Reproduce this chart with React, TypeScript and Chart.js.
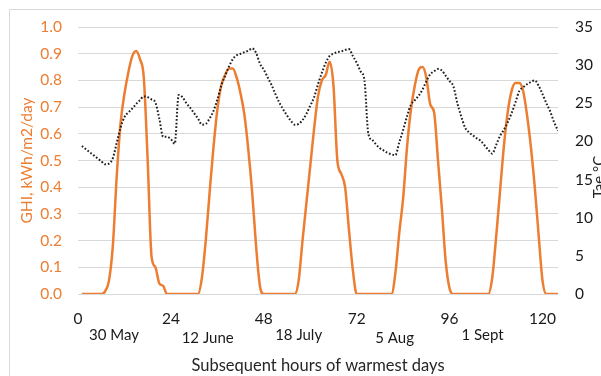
import { useEffect, useRef } from 'react';
import { Chart, registerables } from 'chart.js';

Chart.register(...registerables);

// GHI (kWh/m2/day), hourly, hours 1..124
const ghi = [
  0, 0, 0, 0, 0, 0, 0.01, 0.05, 0.18, 0.44, 0.64, 0.75, 0.83, 0.89, 0.91, 0.88, 0.81, 0.5, 0.14, 0.1, 0.04, 0.03, 0, 0,
  0, 0, 0, 0, 0, 0, 0, 0.06, 0.2, 0.38, 0.55, 0.69, 0.78, 0.82, 0.845, 0.845, 0.81, 0.75, 0.67, 0.54, 0.38, 0.18, 0.03, 0,
  0, 0, 0, 0, 0, 0, 0, 0, 0.05, 0.2, 0.34, 0.48, 0.62, 0.74, 0.8, 0.82, 0.87, 0.78, 0.5, 0.45, 0.4, 0.24, 0.09, 0,
  0, 0, 0, 0, 0, 0, 0, 0, 0, 0.08, 0.23, 0.36, 0.55, 0.69, 0.78, 0.84, 0.85, 0.81, 0.71, 0.68, 0.5, 0.32, 0.12, 0.02,
  0, 0, 0, 0, 0, 0, 0, 0, 0, 0, 0.06, 0.21, 0.38, 0.55, 0.68, 0.76, 0.79, 0.79, 0.76, 0.67, 0.55, 0.4, 0.22, 0.05,
  0, 0, 0, 0,
];

// Ambient temperature Tae (°C), hourly, hours 1..124
const tae = [
  19.4, 19.0, 18.6, 18.2, 17.8, 17.4, 17.0, 17.1, 17.8, 19.8, 21.8, 23.2, 23.8, 24.3, 24.9, 25.4, 25.9, 25.8, 25.5, 25.1, 23.0, 20.6, 20.6, 20.3,
  19.7, 26.1, 25.8, 25.0, 24.4, 23.7, 23.0, 22.2, 22.3, 23.0, 24.0, 25.5, 27.3, 28.6, 29.8, 30.8, 31.3, 31.5, 31.7, 31.9, 32.2, 31.6, 30.2, 29.4,
  28.4, 27.4, 26.2, 25.1, 24.2, 23.4, 22.7, 22.2, 22.3, 22.8, 23.6, 24.7, 25.8, 27.5, 29.0, 30.3, 31.2, 31.5, 31.7, 31.8, 32.0, 32.1, 31.2, 30.3,
  29.2, 28.0, 21.0, 20.2, 19.6, 19.1, 18.8, 18.5, 18.3, 18.2, 19.9, 21.5, 23.3, 24.8, 25.4, 26.0, 26.8, 27.9, 28.8, 29.2, 29.5, 29.3, 28.6, 27.9,
  27.2, 25.0, 23.3, 21.8, 21.2, 20.8, 20.4, 20.1, 19.5, 18.9, 18.4, 19.5, 20.7, 21.5, 22.5, 23.7, 25.1, 26.6, 27.1, 27.5, 27.8, 28.0, 27.3, 26.2,
  25.0, 23.9, 22.5, 21.4,
];

const hours = ghi.map((_, i) => i + 1);
const dateLabels = ['30 May', '12 June', '18 July', '5 Aug', '1 Sept'];
const dateLabelHours = [9.3, 33.5, 57, 81.8, 104.5];

const ORANGE = '#ED7D31';
const FONT = 'Lato';

const extras = {
  id: 'extras',
  afterDraw(chart: any) {
    const ctx = chart.ctx;
    const area = chart.chartArea;
    ctx.save();
    // chart border
    ctx.strokeStyle = '#d9d9d9';
    ctx.lineWidth = 1;
    ctx.beginPath();
    ctx.moveTo(9.5, 380);
    ctx.lineTo(9.5, 9.5);
    ctx.lineTo(610, 9.5);
    ctx.stroke();
    // date labels
    ctx.fillStyle = '#1a1a1a';
    ctx.font = `15px ${FONT}`;
    ctx.textAlign = 'center';
    ctx.textBaseline = 'middle';
    const xs = chart.scales.x;
    dateLabels.forEach((t, i) => {
      ctx.fillText(t, xs.getPixelForValue(dateLabelHours[i]), area.bottom + 41 + (i % 2) * 3);
    });
    // right axis title
    ctx.translate(599, 177);
    ctx.rotate(-Math.PI / 2);
    ctx.fillStyle = '#262626';
    ctx.fillText('Tae °C', 0, 0);
    ctx.restore();
  },
};

export default function App() {
  const ref = useRef<HTMLCanvasElement>(null);
  useEffect(() => {
    if (!ref.current) return;
    const chart = new Chart(ref.current, {
      type: 'line',
      data: {
        datasets: [
          {
            label: 'Tae',
            data: hours.map((h, i) => ({ x: h, y: tae[i] })),
            yAxisID: 'y1',
            borderColor: '#202020',
            borderWidth: 2,
            borderDash: [1.7, 1.9],
            pointRadius: 0,
            fill: false,
            cubicInterpolationMode: 'monotone',
          },
          {
            label: 'GHI',
            data: hours.map((h, i) => ({ x: h, y: ghi[i] })),
            yAxisID: 'y',
            borderColor: ORANGE,
            borderWidth: 2.5,
            pointRadius: 0,
            fill: false,
            cubicInterpolationMode: 'monotone',
          },
        ],
      },
      options: {
        animation: false,
        responsive: false,
        layout: { padding: { top: 27, left: 0, right: 0, bottom: 0 } },
        plugins: { legend: { display: false }, tooltip: { enabled: false } },
        scales: {
          x: {
            type: 'linear',
            position: 'bottom',
            min: 0,
            max: 124,
            grid: { display: false, drawTicks: false },
            border: { display: false },
            ticks: { stepSize: 24, includeBounds: false, padding: 16, color: '#1a1a1a', font: { family: FONT, size: 15.5 } },
            title: {
              display: true,
              text: 'Subsequent hours of warmest days',
              color: '#262626',
              font: { family: FONT, size: 16.5 },
              padding: { top: 0, bottom: 0 },
            },
            afterFit: (s: any) => { s.height = 82; },
          },
          y: {
            position: 'left',
            min: 0,
            max: 1,
            grid: { color: '#d9d9d9', drawTicks: false },
            border: { display: false },
            ticks: {
              stepSize: 0.1,
              padding: 16,
              color: ORANGE,
              font: { family: FONT, size: 15.5 },
              callback: (v: any) => Number(v).toFixed(1),
            },
            title: {
              display: true,
              text: 'GHI, kWh/m2/day',
              color: ORANGE,
              font: { family: FONT, size: 15.5 },
              padding: { top: 18, bottom: 0 },
            },
            afterFit: (s: any) => { s.width = 78; },
          },
          y1: {
            position: 'right',
            min: 0,
            max: 35,
            grid: { display: false, drawTicks: false },
            border: { display: false },
            ticks: { stepSize: 5, padding: 17, color: '#1a1a1a', font: { family: FONT, size: 15.5 } },
            afterFit: (s: any) => { s.width = 43; },
          },
        },
      },
      plugins: [extras],
    });
    return () => chart.destroy();
  }, []);
  return (
    <div style={{ position: 'fixed', left: 0, top: 0, width: 601, height: 376, background: '#fff' }}>
      <canvas ref={ref} width={601} height={376} />
    </div>
  );
}
